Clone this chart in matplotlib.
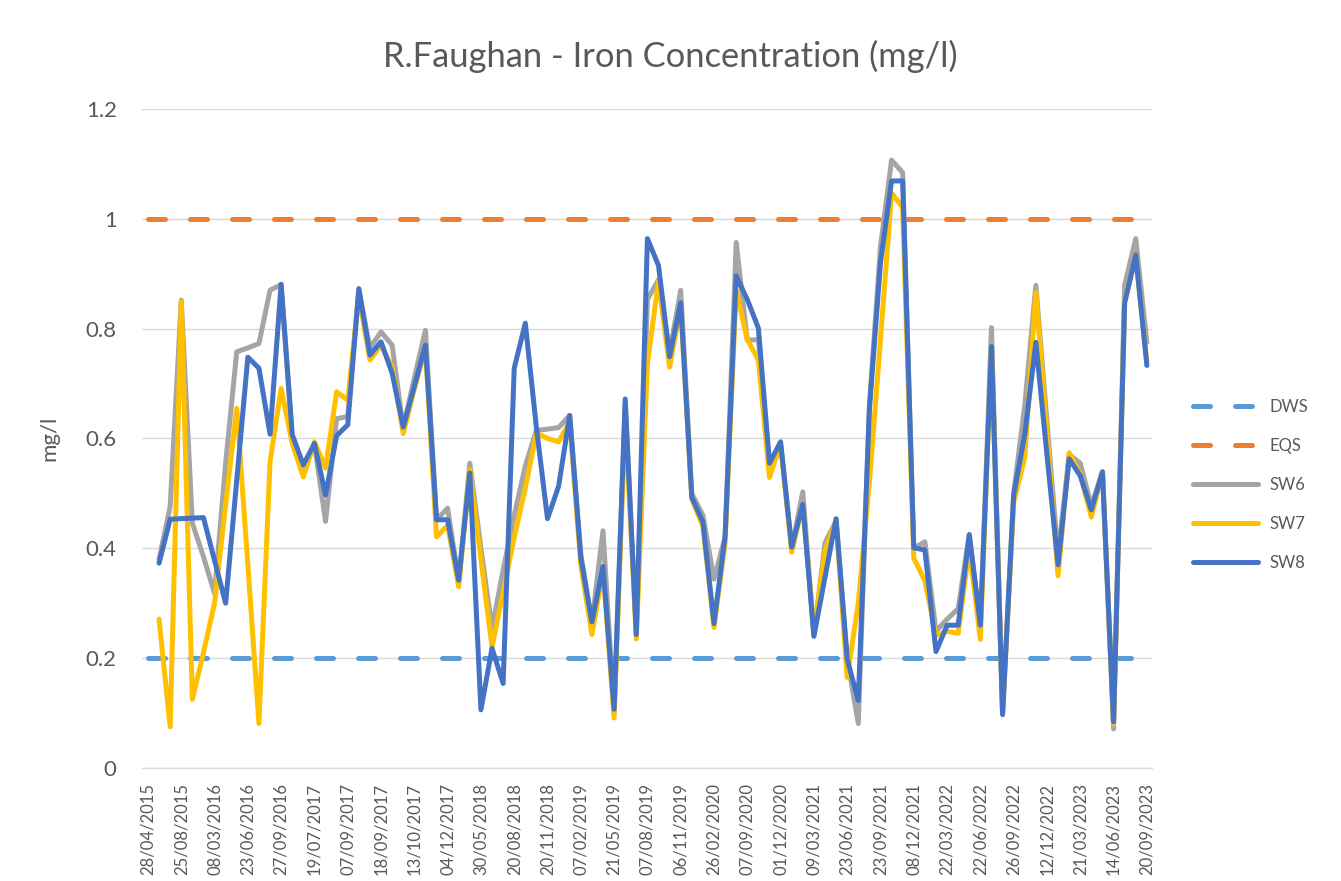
import numpy as np
import matplotlib
matplotlib.use('Agg')
import matplotlib.pyplot as plt

plt.rcParams['font.family'] = ['Lato', 'DejaVu Sans']

# Datumsbeschriftungen (nur jede dritte Kategorie wird beschriftet)
tick_labels = ['28/04/2015', '25/08/2015', '08/03/2016', '23/06/2016', '27/09/2016',
               '19/07/2017', '07/09/2017', '18/09/2017', '13/10/2017', '04/12/2017',
               '30/05/2018', '20/08/2018', '20/11/2018', '07/02/2019', '21/05/2019',
               '07/08/2019', '06/11/2019', '26/02/2020', '07/09/2020', '01/12/2020',
               '09/03/2021', '23/06/2021', '23/09/2021', '08/12/2021', '22/03/2022',
               '22/06/2022', '26/09/2022', '12/12/2022', '21/03/2023', '14/06/2023',
               '20/09/2023']
n_categories = 91

dws_value = 0.2
eqs_value = 1.0

sw6 = [0.38, 0.476, 0.852, 0.446, 0.385, 0.318, 0.555, 0.758, 0.765, 0.773,
       0.870, 0.880, 0.60, 0.537, 0.591, 0.449, 0.636, 0.640, 0.87, 0.765,
       0.794, 0.770, 0.62, 0.71, 0.797, 0.452, 0.473, 0.34, 0.555, 0.40,
       0.254, 0.36, 0.46, 0.55, 0.615, 0.617, 0.620, 0.642, 0.39, 0.265,
       0.432, 0.10, 0.66, 0.25, 0.853, 0.889, 0.756, 0.870, 0.50, 0.46,
       0.344, 0.42, 0.957, 0.779, 0.78, 0.55, 0.59, 0.40, 0.503, 0.24,
       0.41, 0.45, 0.20, 0.081, 0.66, 0.95, 1.107, 1.084, 0.40, 0.412,
       0.249, 0.271, 0.290, 0.425, 0.26, 0.802, 0.10, 0.50, 0.66, 0.879,
       0.63, 0.386, 0.571, 0.555, 0.477, 0.54, 0.071, 0.879, 0.964, 0.775]

sw7 = [0.271, 0.075, 0.850, 0.125, 0.21, 0.300, 0.48, 0.655, 0.37, 0.081,
       0.558, 0.691, 0.591, 0.530, 0.594, 0.546, 0.685, 0.670, 0.86, 0.743,
       0.770, 0.73, 0.609, 0.69, 0.765, 0.421, 0.442, 0.330, 0.543, 0.38,
       0.221, 0.32, 0.42, 0.51, 0.61, 0.60, 0.594, 0.63, 0.37, 0.243,
       0.36, 0.091, 0.64, 0.235, 0.737, 0.886, 0.730, 0.84, 0.49, 0.44,
       0.256, 0.41, 0.87, 0.78, 0.743, 0.529, 0.59, 0.393, 0.48, 0.25,
       0.395, 0.45, 0.165, 0.30, 0.52, 0.78, 1.047, 1.021, 0.382, 0.341,
       0.241, 0.249, 0.245, 0.401, 0.234, 0.77, 0.10, 0.483, 0.565, 0.866,
       0.61, 0.350, 0.574, 0.535, 0.457, 0.539, 0.08, 0.85, 0.93, 0.74]

sw8 = [0.373, 0.453, 0.454, 0.455, 0.456, 0.378, 0.300, 0.524, 0.748, 0.728,
       0.608, 0.881, 0.607, 0.552, 0.591, 0.497, 0.605, 0.625, 0.873, 0.752,
       0.776, 0.719, 0.621, 0.695, 0.770, 0.452, 0.452, 0.342, 0.537, 0.106,
       0.218, 0.154, 0.728, 0.810, 0.620, 0.454, 0.513, 0.642, 0.383, 0.266,
       0.367, 0.107, 0.672, 0.243, 0.964, 0.915, 0.749, 0.847, 0.493, 0.448,
       0.263, 0.422, 0.896, 0.853, 0.801, 0.555, 0.594, 0.402, 0.480, 0.240,
       0.347, 0.454, 0.198, 0.123, 0.652, 0.92, 1.069, 1.069, 0.401, 0.397,
       0.212, 0.260, 0.260, 0.425, 0.260, 0.768, 0.097, 0.497, 0.607, 0.775,
       0.57, 0.370, 0.563, 0.532, 0.470, 0.539, 0.084, 0.847, 0.934, 0.733]

text_color = '#595959'
grid_color = '#D9D9D9'
lw = 3.6

fig = plt.figure(figsize=(13.41, 8.81), dpi=100)
ax = fig.add_axes([142.4 / 1341, 113 / 881, 1010 / 1341, 659 / 881])

x_all = np.arange(n_categories)
x_sw = np.arange(1, n_categories)

dash = (17 / 5, 25 / 5)
ax.plot(x_all, [dws_value] * n_categories, color='#5B9BD5', lw=lw,
        linestyle=(0, dash), dash_capstyle='round', label='DWS')
ax.plot(x_all, [eqs_value] * n_categories, color='#ED7D31', lw=lw,
        linestyle=(0, dash), dash_capstyle='round', label='EQS')
ax.plot(x_sw, sw6, color='#A5A5A5', lw=lw, solid_joinstyle='round',
        solid_capstyle='round', label='SW6')
ax.plot(x_sw, sw7, color='#FFC000', lw=lw, solid_joinstyle='round',
        solid_capstyle='round', label='SW7')
ax.plot(x_sw, sw8, color='#4472C4', lw=lw, solid_joinstyle='round',
        solid_capstyle='round', label='SW8')

ax.set_xlim(-0.5, n_categories - 0.5)
ax.set_ylim(0, 1.2)

yticks = [0, 0.2, 0.4, 0.6, 0.8, 1.0, 1.2]
ax.set_yticks(yticks)
ax.set_yticklabels(['0', '0.2', '0.4', '0.6', '0.8', '1', '1.2'])
ax.set_xticks(np.arange(0, n_categories, 3))
ax.set_xticklabels(tick_labels, rotation=90)

ax.tick_params(axis='y', length=0, pad=18.5, labelsize=16, labelcolor=text_color)
ax.tick_params(axis='x', length=0, pad=10.5, labelsize=12, labelcolor=text_color)

ax.grid(axis='y', color=grid_color, lw=1.0)
ax.set_axisbelow(True)
for side in ['top', 'right', 'left']:
    ax.spines[side].set_visible(False)
ax.spines['bottom'].set_color(grid_color)
ax.spines['bottom'].set_linewidth(1.0)

ax.set_ylabel('mg/l', fontsize=16, color=text_color)
ax.yaxis.set_label_coords((59 - 142.4) / 1010, 0.5)

fig.text(0.5, 1 - 56 / 881, 'R.Faughan - Iron Concentration (mg/l)',
         ha='center', va='center', fontsize=24.8, color=text_color)

leg = fig.legend(loc='upper left', bbox_to_anchor=(1193 / 1341, 1 - 399 / 881),
                 frameon=False, fontsize=12, borderpad=0, borderaxespad=0,
                 handlelength=3.9, handletextpad=0.7, labelspacing=1.38)
for t in leg.get_texts():
    t.set_color(text_color)

fig.savefig('out.png', dpi=100)
